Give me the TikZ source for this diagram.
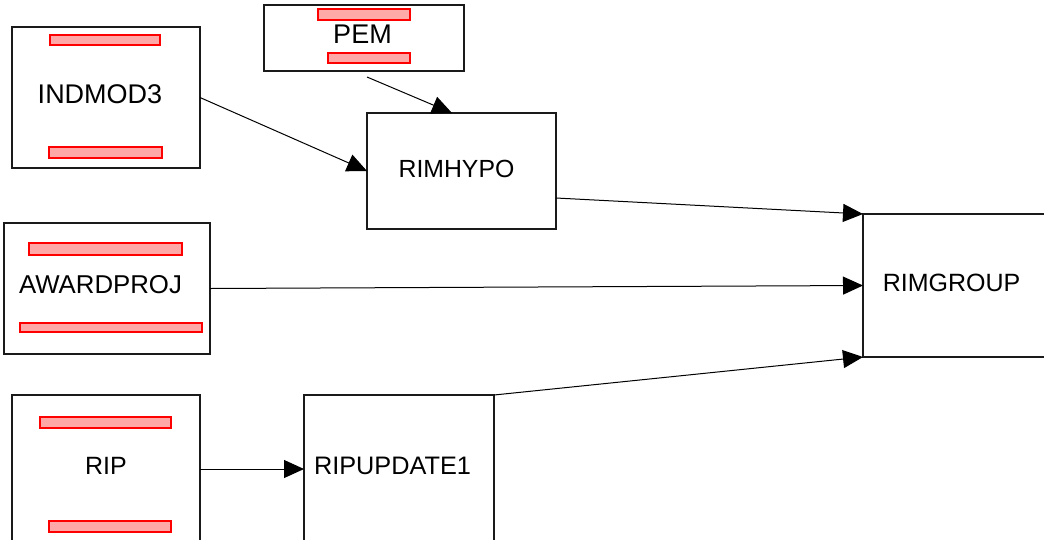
\documentclass[tikz,border=0pt]{standalone}
\usepackage{fontspec}
\setmainfont{Liberation Sans}
\usetikzlibrary{arrows.meta,calc}
\definecolor{barfill}{HTML}{FFA8A8}
\definecolor{boxline}{HTML}{1A1A1A}
\tikzset{
  box/.style={draw=boxline,line width=1.3pt,inner sep=0pt,outer sep=0pt,fill=white},
  lbl/.style={anchor=base,inner sep=0pt,font=\fontsize{#1}{30}\selectfont},
  lbl/.default=25,
  bar/.style={draw=red,line width=1.2pt,fill=barfill},
  conn/.style={line width=1pt,-{Triangle[length=20pt,width=18pt]}},
}
\begin{document}
\begin{tikzpicture}[x=1pt,y=-1pt]
\useasboundingbox (0,0) rectangle (1044,539);
% boxes
\node[box,minimum width=188pt,minimum height=141pt] (ind) at (106,97.5) {};
\node[box,minimum width=200pt,minimum height=66pt] (pem) at (364,38) {};
\node[box,minimum width=189pt,minimum height=116pt] (hypo) at (461.5,171) {};
\node[box,minimum width=206pt,minimum height=131pt] (awd) at (107,288.5) {};
\node[box,minimum width=187pt,minimum height=143pt] (grp) at (956.5,285.5) {};
\node[box,minimum width=188pt,minimum height=148pt] (rip) at (106,469) {};
\node[box,minimum width=190pt,minimum height=148pt] (ripu) at (399,469) {};
% red bars
\draw[bar] (50,35) rectangle (160,45);
\draw[bar] (49,147) rectangle (162,158);
\draw[bar] (318,9) rectangle (410,20);
\draw[bar] (328,53) rectangle (410,63);
\draw[bar] (29,243) rectangle (182,255);
\draw[bar] (20,323) rectangle (202,332);
\draw[bar] (40,417) rectangle (171,428);
\draw[bar] (49,521) rectangle (171,532);
% labels
\node[lbl=27] (tind) at (100,103) {INDMOD3};
\node[lbl=27] (tpem) at (362.5,43) {PEM};
\node[lbl=24.8] (thypo) at (456.5,177) {RIMHYPO};
\node[lbl=25.8] (tawd) at (100.5,293) {AWARDPROJ};
\node[lbl=25] (tgrp) at (951.5,291) {RIMGROUP};
\node[lbl=25] (trip) at (106,474) {RIP};
\node[lbl=25.3] (tripu) at (392.5,474) {RIPUPDATE1};
% connectors
\draw[conn] (ind.east) -- (hypo.west);
\draw[conn] ($(pem.south)+(3,6)$) -- ($(hypo.north)+(-9.5,0)$);
\draw[conn] ($(hypo.east)+(0,27)$) -- (grp.north west);
\draw[conn] (awd.east) -- (grp.west);
\draw[conn] (ripu.north east) -- (grp.south west);
\draw[conn] (rip.east) -- (ripu.west);
\end{tikzpicture}
\end{document}
